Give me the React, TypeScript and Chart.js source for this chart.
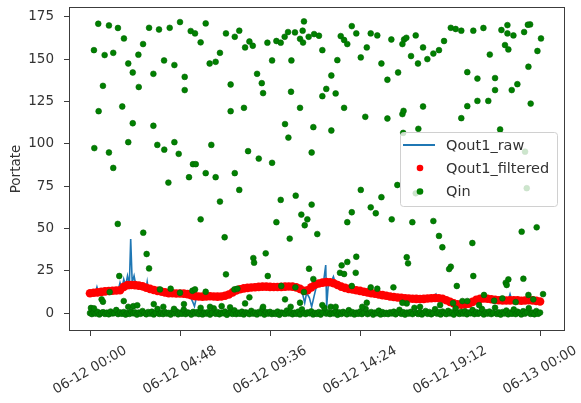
import React, { useEffect, useRef } from "react";
import { Chart, registerables } from "chart.js";

Chart.register(...registerables);

// ---------- axis ticks ----------
const xTickValues = [0, 4.8, 9.6, 14.4, 19.2, 24];
const xTickLabels = ["06-12 00:00", "06-12 04:48", "06-12 09:36", "06-12 14:24", "06-12 19:12", "06-13 00:00"];
const yTickValues = [0, 25, 50, 75, 100, 125, 150, 175];
const xRange = [-1.12, 25.33];
const yRange = [-10.6, 180.9];

// ---------- Qout1_raw (hour, value) ----------
const rawHours = [0, 0.3, 0.37, 0.45, 1.0, 1.5, 1.6, 1.7, 1.8, 1.9, 2.0, 2.1, 2.17, 2.25, 2.35, 2.45, 2.6, 3.0, 3.05, 3.1, 3.6, 4.5, 5.3, 5.5, 5.57, 5.65, 5.8, 7.0, 7.3, 7.4, 8.0, 9.0, 10.5, 11.0, 11.3, 11.45, 11.55, 11.7, 11.82, 11.95, 12.1, 12.45, 12.57, 12.62, 12.7, 12.85, 12.98, 13.1, 13.5, 14.5, 16.5, 17.5, 17.6, 18.3, 18.45, 18.55, 19.5, 20.1, 20.8, 22.3, 22.4, 22.5, 23.6, 24.0];
const rawValues = [11.5, 12.5, 15.4, 12.2, 13, 13.3, 18, 14, 20, 16, 22, 17, 43.8, 18, 22, 16, 16.5, 15, 18.5, 14.8, 13, 11.6, 11, 6, 4, 8, 9.8, 9.8, 9, 11, 14, 15.5, 15.6, 15, 13, 6, 12, 9, 3.7, 10, 17, 18, 28.4, 3.7, 16, 18, 21.5, 17, 15, 13, 9, 9.5, 8, 9, 11.2, 8.5, 5.3, 5, 8.4, 7.4, 11.2, 7.5, 7.5, 6.8];

// ---------- Qout1_filtered (every 0.2 h from 06-12 00:00) ----------
const FILTERED_STEP_H = 0.2;
const filteredValues = [
  11.7, 12, 12.2, 12.5, 12.8, 13, 13.2, 13.3, 13.5, 15.5,
  16.5, 16.6, 16.5, 16.2, 15.8, 15, 14.3, 13.6, 13.1, 12.7,
  12.2, 11.8, 11.7, 11.6, 11.6, 11.5, 11.2, 10.5, 10, 9.8,
  9.7, 9.8, 9.9, 9.8, 9.7, 9.8, 10.2, 11, 12.2, 13.3,
  14.1, 14.6, 14.9, 15.1, 15.3, 15.5, 15.6, 15.6, 15.5, 15.4,
  15.4, 15.5, 15.6, 15.7, 15.6, 15.2, 14.3, 13.2, 13.5, 15.2,
  16.8, 17.5, 18, 18.3, 18.2, 17.6, 16.6, 15.6, 14.9, 14.3,
  13.9, 13.5, 13.1, 12.6, 12.2, 11.8, 11.4, 11, 10.6, 10.2,
  9.8, 9.5, 9.2, 9, 8.8, 8.6, 8.5, 8.4, 8.3, 8.4,
  8.6, 8.8, 8.9, 8.8, 8.5, 7.6, 6.6, 5.7, 5.2, 5.0,
  5.1, 5.6, 6.6, 7.8, 8.4, 8.6, 8.5, 8.2, 7.9, 7.6,
  7.5, 7.4, 7.5, 7.6, 7.5, 7.3, 7.4, 7.6, 7.5, 7.2,
  6.8,
];

// ---------- Qin: near-zero samples (every 0.1 h) ----------
const QIN_BAND_STEP_H = 0.1;
const qinBandValues = [
  0, -0.6, 0.4, -0.3, 0.7, -0.8, 0.1, 0.5, -0.5, 0.2, -0.7, 0.9, -0.2, 0, 1.8, -0.6, 0.4, -0.4, 0.6, -0.9,
  0.1, -0.5, 0.8, -0.1, 0.4, -0.9, 0.3, -0.4, 1.2, 0, -0.7, 0.6, -0.3, 0.8, -0.8, 0.1, 2.4, -0.5, 0.3, -0.6,
  0.6, -0.3, 0.1, -0.9, 0.5, -0.1, 1, -0.7, 0.2, -0.4, 2, -0.6, 0.4, 0, -0.9, 0.7, -0.2, 0.5, -0.6, 1.1,
  -0.8, 0.3, -0.3, 0.6, -0.9, 0.1, 2.8, -0.4, 0.6, -0.7, 0.3, -0.1, 0.9, -1, 0, 0.5, -0.5, 1.6, -0.6, 0.2,
  -0.4, 0.8, -0.8, 0.4, 0, -0.6, 1.3, -0.3, 0.3, -0.8, 0.6, -0.1, 2.6, -0.9, 0.5, -0.3, 0.7, -0.6, 0.1, -0.5,
  0.9, -1, 0.3, 0, -0.5, 1.5, -0.2, 0.5, -0.7, 0.2, -0.4, 0.8, -0.8, 2.2, 0, -0.6, 0.4, -0.1, 1, -0.8,
  0.1, -0.5, 0.6, -0.9, 0.3, 3, -0.3, 0.6, -0.6, 0.1, -0.2, 1.1, -1, 0.4, -0.5, 0.7, 0, -0.7, 1.7, -0.3,
  0.5, -0.8, 0.2, -0.4, 0.9, -0.6, 0.3, 2.5, -0.6, 0, 0.6, -0.9, 0.3, -0.1, 1.4, -0.8, 0.5, -0.5, 0.1, -0.6,
  0.4, -0.2, 0.8, -0.7, 0.2, 1.9, -0.4, 0.5, -0.9, 0.3, -0.3, 0.7, -0.6, 3.1, 0.1, -0.5, 0.6, -0.8, 0.2, 1.2,
  -0.4, 0.6, -0.7, 0.1, 2.3, -0.3, 0.5, -0.8, 0.9, 0, -0.6, 1.3, -0.2, 0.4, -0.9, 2.7, 0.2, -0.5, 0.7, -0.3,
  1, -0.7, 0.3, -0.1, 1.8, -0.6, 0.6, -0.4, 0.2, 2.4, -0.8, 0.5, -0.3, 0.9, -0.6, 0.1, 3.2, -0.5, 0.4, -0.9,
  0.6, -0.2, 1.5, -0.7, 0.3, -0.4, 2.1, -0.6, 0.8, 0, -0.8, 1.1, -0.3, 0.5, 2.9, -0.5, 0.2, -0.7, 1.2, -0.4,
  0.3,
];

// ---------- Qin: scattered samples [hour, value] ----------
const qinScatter: [number, number][] = [
  [0.44, 171], [1.01, 170], [1.49, 168.5], [3.15, 168.6], [3.68, 167.6], [4.25, 168.6], [4.8, 172], [5.37, 166.7],
  [1.81, 162.3], [2.83, 159], [0.21, 155.4], [0.78, 152.5], [1.24, 153.8], [2.58, 152.7], [3.95, 149.3], [4.5, 146.6],
  [2.04, 147.5], [2.28, 142.2], [3.38, 141.4], [5.05, 139.6], [0.69, 134.3], [2.6, 133.6], [5.05, 131.8], [1.72, 122.1],
  [0.46, 119.3], [2.28, 112.2], [3.38, 110.7], [2.04, 101], [4.5, 101], [3.59, 99.4], [3.96, 96.6], [0.23, 97.5],
  [1.01, 94.9], [4.73, 94.1], [1.24, 85.8], [5.49, 88],
  [6.17, 171.2], [5.6, 165.3], [5.9, 160], [7.25, 165.3], [7.72, 163.3], [7.96, 166.9], [8.27, 157], [8.5, 160.5],
  [8.68, 158], [9.46, 159.8], [9.94, 160.8], [10.17, 159.8], [10.38, 163.3], [10.56, 166.1], [10.93, 165.9], [11.41, 172.4],
  [11.34, 166.9], [11.2, 162.1], [11.36, 159.9], [11.66, 163.3], [11.95, 164.9], [6.93, 153.8], [6.7, 148.5], [6.38, 147.5],
  [9.71, 149.3], [10.74, 149.3], [8.91, 141.4], [9.16, 135.9], [7.5, 135.1], [9.23, 130], [10.72, 130.8], [7.5, 119.3],
  [8.21, 121.3], [11.2, 121.3], [10.4, 111.7], [11.91, 109.9], [10.58, 103.7], [6.47, 99.4], [8.43, 95.7], [11.82, 94.9],
  [9, 91.3], [9.71, 88.8], [5.64, 88],
  [6.17, 82.7], [6.7, 80.3], [7.72, 82.7], [7.96, 72.8], [6.93, 65.9], [5.9, 55.4], [7.18, 44.8], [8.71, 32.5],
  [8.75, 29.8], [9.37, 35.3], [7.25, 22.9], [9.48, 21.9], [10.17, 66.9], [10.97, 69.4], [11.82, 64.1], [11.27, 58.2],
  [11.59, 55.4], [11.45, 51.9], [9.94, 53.7], [10.65, 44], [12.12, 46.7], [11.68, 26.2], [11.91, 20.1],
  [1.48, 52.7], [2.84, 47.5], [3.02, 34.9], [3.15, 26.4], [1.56, 21.9], [4.18, 77.1], [5.28, 80.3],
  [12.21, 163.9], [13.96, 169.6], [13.37, 163.7], [13.55, 161.4], [13.72, 159], [14.2, 165.3], [14.97, 165.3], [15.32, 164.1],
  [16.07, 161.7], [16.66, 159], [16.75, 161.7], [16.87, 162.7], [17.37, 164.1], [12.39, 155.4], [14.76, 157], [14.44, 151.1],
  [13.19, 149.5], [15.54, 147.5], [17.76, 157], [17.12, 151.9], [17.49, 147.5], [17.99, 150.1], [18.31, 153.4], [18.61, 155.4],
  [18.88, 160.8], [12.87, 140.4], [16.43, 142.2], [15.86, 137.9], [12.6, 132.5], [12.39, 128.2], [13.1, 129.8], [13.55, 121.3],
  [14.68, 116], [15.86, 115], [16.66, 117.6], [16.72, 119.5], [17.76, 122.1], [12.87, 107.9], [17.51, 108.9],
  [19.24, 168.6], [19.5, 167.9], [19.8, 166.9], [20.44, 166.9], [20.98, 168.5], [21.94, 167.3], [22.26, 170.2], [22.26, 165.3],
  [22.58, 164.1], [23.15, 166.1], [23.47, 170.6], [23.35, 170.4], [24.05, 162.3], [22.13, 158.4], [22.31, 155.8], [21.32, 152.8],
  [23.86, 154.9], [23.38, 145.6], [20.12, 142.4], [20.66, 138.6], [21.6, 138.9], [22.79, 135.3], [21.6, 131.8], [22.49, 131.8],
  [20.66, 125.4], [21.24, 125.4], [20.12, 122.3], [23.5, 123.8], [19.8, 115.2], [21.87, 108.5],
  [23.2, 95.4], [16.7, 106.5], [23.29, 73.8], [17.37, 70.8],
  [14.44, 72.8], [15.54, 68.5], [16.39, 75.7], [13.96, 59.6], [13.72, 53.7], [14.97, 62.5], [15.24, 59], [16.09, 55.4],
  [17.19, 53.7], [18.31, 54.4], [18.61, 45.6], [18.79, 38.9], [16.89, 33], [16.96, 29.4], [14.2, 33.3], [13.72, 30.2],
  [13.42, 28.2], [13.33, 23.8], [13.55, 23.1], [14.17, 23.8], [13.96, 16], [14.97, 15.2], [15.32, 14.4], [16.18, 15.2],
  [23.02, 48.1], [23.82, 50.7], [20.39, 41.4], [19.24, 27.4], [19.15, 26], [20.44, 21.9], [19.56, 16], [22.31, 19.9],
  [22.17, 17.9], [22.22, 16.6], [23.11, 20.3],
  [0.05, 3], [0.62, 8.1], [0.69, 6.7], [1.05, 12.4], [1.8, 7.1], [2.04, 3.7], [2.31, 4.1], [2.52, 4.6],
  [3.4, 5.3], [3.91, 3.7], [4.48, 2.5], [5.01, 5.3], [3.73, 14], [4.3, 14.4], [4.8, 12], [5.46, 13.2],
  [5.6, 14], [6.4, 3.7], [0.21, 2.8], [7.02, 4.1], [7.47, 3.4], [7.7, 14], [7.86, 14.4], [8.27, 5.7],
  [8.5, 9.3], [10.2, 16], [10.4, 8.1], [10.7, 3.7], [10.95, 15.2], [11.2, 6.1], [11.41, 12.4], [9.23, 3.7],
  [6.17, 12.6], [5.9, 3.1], [12.84, 3.7], [13.1, 3.7], [12.39, 4.7], [14.76, 6.1], [21.01, 10.7], [23.38, 10.7],
  [24.16, 11.2], [23.64, 8.1], [21.55, 7.3], [21.99, 8.7], [22.7, 6.5], [19.86, 7.1], [20.12, 7.1], [20.75, 4.7],
  [16.89, 5.7], [17.6, 3.7], [18.67, 4.7], [19.36, 5.9], [14.52, 3.7], [16.66, 6.1],
];

const seriesNames = ["Qout1_raw", "Qout1_filtered", "Qin"];
const BLUE = "#1f77b4";
const RED = "#ff0000";
const GREEN = "#008000";
const FONT = "DejaVu Sans";
const TEXT = "#333333";

const decorPlugin = {
  id: "mplDecor",
  afterDatasetsDraw(chart: any) {
    const { ctx, chartArea: a, scales } = chart;
    ctx.save();
    // frame (all four spines)
    ctx.strokeStyle = "#3c3c3c";
    ctx.lineWidth = 1;
    ctx.strokeRect(a.left + 0.5, a.top + 0.5, a.right - a.left - 1, a.bottom - a.top - 1);

    // legend
    const lx = a.left + 331;
    const ly = a.top + 125;
    const lw = 157;
    const lh = 74;
    ctx.beginPath();
    if ((ctx as any).roundRect) (ctx as any).roundRect(lx + 0.5, ly + 0.5, lw, lh, 3);
    else ctx.rect(lx + 0.5, ly + 0.5, lw, lh);
    ctx.fillStyle = "rgba(255,255,255,0.8)";
    ctx.fill();
    ctx.strokeStyle = "#d0d0d0";
    ctx.lineWidth = 1;
    ctx.stroke();

    ctx.font = `14.5px "${FONT}"`;
    ctx.fillStyle = TEXT;
    ctx.textAlign = "left";
    ctx.textBaseline = "middle";
    const rows = [ly + 13, ly + 36, ly + 59.5];
    ctx.strokeStyle = BLUE;
    ctx.lineWidth = 2;
    ctx.beginPath();
    ctx.moveTo(lx + 3, rows[0]);
    ctx.lineTo(lx + 35, rows[0]);
    ctx.stroke();
    ctx.fillStyle = RED;
    ctx.beginPath();
    ctx.arc(lx + 20, rows[1], 3.3, 0, Math.PI * 2);
    ctx.fill();
    ctx.fillStyle = GREEN;
    ctx.beginPath();
    ctx.arc(lx + 20, rows[2], 3.3, 0, Math.PI * 2);
    ctx.fill();
    ctx.fillStyle = TEXT;
    seriesNames.forEach((n, i) => ctx.fillText(n, lx + 46, rows[i] + 1));

    // rotated x tick labels, centred on their ticks (matplotlib style)
    const xs = scales.x;
    ctx.font = `13.5px "${FONT}"`;
    ctx.fillStyle = TEXT;
    ctx.textAlign = "center";
    ctx.textBaseline = "middle";
    const ang = (30 * Math.PI) / 180;
    xTickValues.forEach((v, i) => {
      const label = xTickLabels[i];
      const w = ctx.measureText(label).width;
      const h = 15.5;
      const bh = w * Math.sin(ang) + h * Math.cos(ang);
      const px = xs.getPixelForValue(v);
      const cy = a.bottom + 12 + bh / 2;
      ctx.save();
      ctx.translate(px, cy);
      ctx.rotate(-ang);
      ctx.fillText(label, 0, 0);
      ctx.restore();
    });
    ctx.restore();
  },
};

export default function App() {
  const ref = useRef<HTMLCanvasElement>(null);

  useEffect(() => {
    if (!ref.current) return;
    Chart.defaults.font.family = FONT;

    const rawData = rawHours.map((h, i) => ({ x: h, y: rawValues[i] }));
    const filteredData = filteredValues.map((v, i) => ({ x: i * FILTERED_STEP_H, y: v }));
    const qinData = [
      ...qinBandValues.map((v, i) => ({ x: i * QIN_BAND_STEP_H, y: v })),
      ...qinScatter.map(([h, v]) => ({ x: h, y: v })),
    ];

    const chart = new Chart(ref.current, {
      type: "scatter",
      data: {
        datasets: [
          {
            label: seriesNames[0],
            data: rawData,
            showLine: true,
            borderColor: BLUE,
            backgroundColor: BLUE,
            borderWidth: 1.6,
            pointRadius: 0,
            order: 3,
          } as any,
          {
            label: seriesNames[1],
            data: filteredData,
            pointRadius: 4.3,
            pointBackgroundColor: RED,
            pointBorderWidth: 0,
            backgroundColor: RED,
            borderColor: RED,
            order: 2,
          },
          {
            label: seriesNames[2],
            data: qinData,
            pointRadius: 2.9,
            pointBackgroundColor: GREEN,
            pointBorderColor: "#006400",
            pointBorderWidth: 0.6,
            backgroundColor: GREEN,
            borderColor: GREEN,
            order: 1,
          },
        ],
      },
      options: {
        responsive: false,
        devicePixelRatio: 1,
        animation: false,
        layout: { padding: { left: 0, top: 7, right: 16, bottom: 0 } },
        plugins: {
          legend: { display: false },
          tooltip: { enabled: false },
        },
        scales: {
          x: {
            type: "linear",
            min: xRange[0],
            max: xRange[1],
            afterBuildTicks: (s: any) => {
              s.ticks = xTickValues.map((v) => ({ value: v }));
            },
            afterFit: (s: any) => {
              s.height = 72;
              s.paddingLeft = 0;
              s.paddingRight = 0;
            },
            ticks: { display: false },
            grid: {
              display: true,
              drawOnChartArea: false,
              drawTicks: true,
              tickLength: 5,
              color: "#3c3c3c",
              lineWidth: 1,
            },
            border: { display: false },
          },
          y: {
            type: "linear",
            min: yRange[0],
            max: yRange[1],
            afterBuildTicks: (s: any) => {
              s.ticks = yTickValues.map((v) => ({ value: v }));
            },
            afterFit: (s: any) => {
              s.width = 69;
              s.paddingTop = 0;
              s.paddingBottom = 0;
            },
            ticks: {
              padding: 10,
              color: TEXT,
              font: { family: FONT, size: 13.5 },
              callback: (v: any) => String(v),
            },
            grid: {
              display: true,
              drawOnChartArea: false,
              drawTicks: true,
              tickLength: 5,
              color: "#3c3c3c",
              lineWidth: 1,
            },
            border: { display: false },
            title: {
              display: true,
              text: "Portate",
              color: TEXT,
              font: { family: FONT, size: 13.5 },
              padding: { top: 8, bottom: 0 },
            },
          },
        },
      },
      plugins: [decorPlugin],
    });
    return () => chart.destroy();
  }, []);

  return (
    <div style={{ position: "absolute", left: 0, top: 0, width: 581, height: 403, background: "#fff" }}>
      <canvas ref={ref} width={581} height={403} style={{ display: "block", width: 581, height: 403 }} />
    </div>
  );
}
